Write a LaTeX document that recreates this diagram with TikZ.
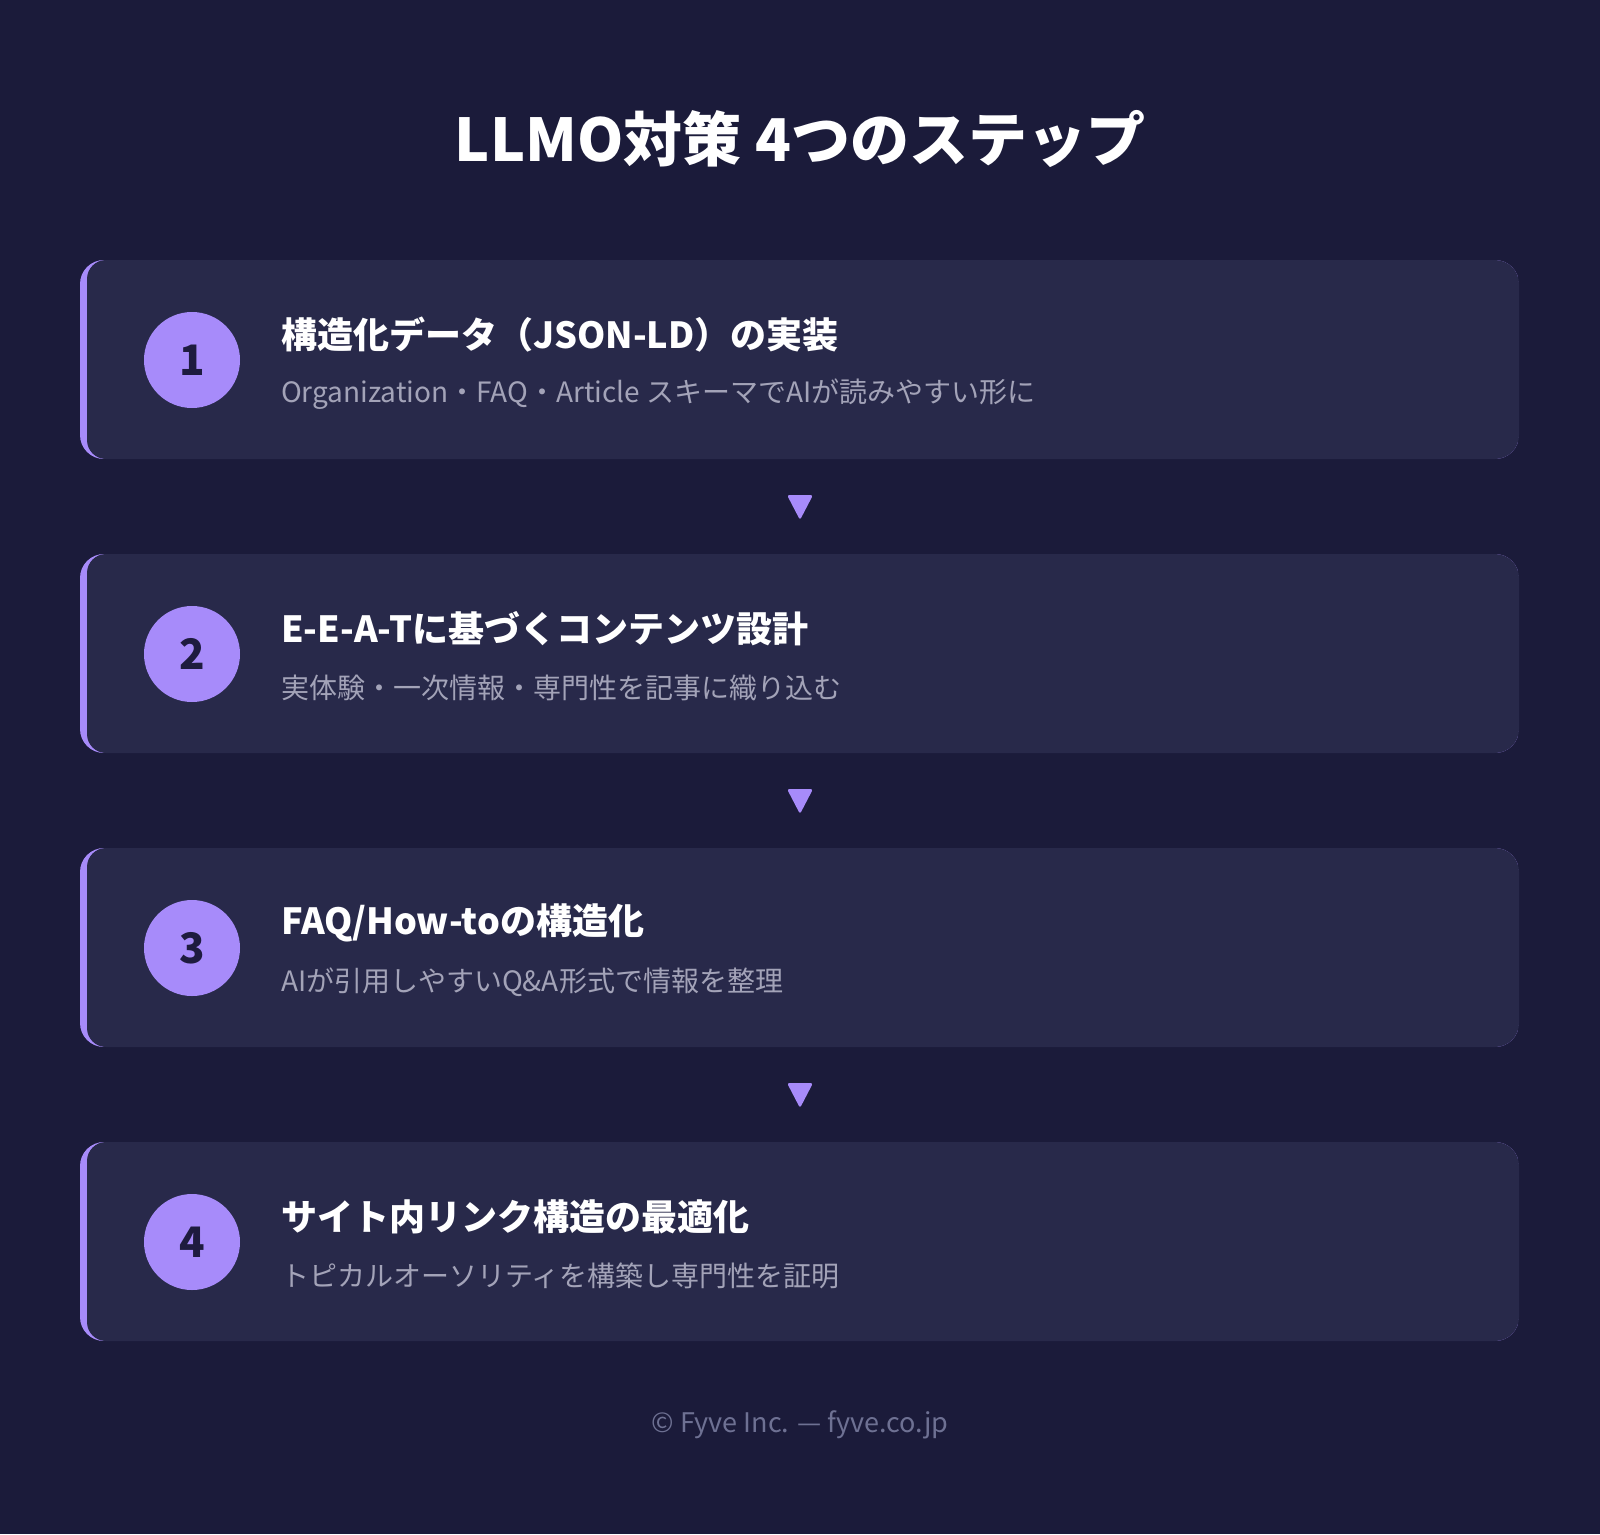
\documentclass[tikz,border=0pt]{standalone}
\usepackage{fontspec}
\setmainfont{Noto Sans CJK JP}
\usetikzlibrary{positioning}

\definecolor{bgnavy}{HTML}{1B1B3A}
\definecolor{cardbg}{HTML}{28294A}
\definecolor{accent}{HTML}{A78BFA}
\definecolor{numdark}{HTML}{1E1B3F}
\definecolor{descgray}{HTML}{A3A3B8}
\definecolor{footgray}{HTML}{6E7193}

\tikzset{
	headline/.style={white, font=\fontsize{59}{64}\selectfont\bfseries},
	numdot/.style={circle, fill=accent, minimum size=96, inner sep=0pt, text=numdark, font=\fontsize{42}{46}\selectfont\bfseries},
	steptitle/.style={anchor=west, inner sep=0pt, white, font=\fontsize{36}{40}\selectfont\bfseries},
	stepdesc/.style={anchor=west, inner sep=0pt, descgray, font=\fontsize{28}{32}\selectfont},
}

\begin{document}
\begin{tikzpicture}[x=1pt, y=-1pt]

	\fill [bgnavy] (0,0) rectangle (1600,1534);
	\node [headline] (title) at (800,139) {LLMO対策 4つのステップ};

	\foreach \n/\ttl/\desc [evaluate=\n as \cardy using {260+294*(\n-1)}] in {
		1/{構造化データ（JSON-LD）の実装}/{Organization・FAQ・Article スキーマでAIが読みやすい形に},
		2/{E-E-A-Tに基づくコンテンツ設計}/{実体験・一次情報・専門性を記事に織り込む},
		3/{FAQ/How-toの構造化}/{AIが引用しやすいQ\&A形式で情報を整理},
		4/{サイト内リンク構造の最適化}/{トピカルオーソリティを構築し専門性を証明}} {
		\begin{scope}[shift={(0,\cardy)}]
			\begin{scope}
				\clip [rounded corners=24] (80,0) rectangle (1519,199);
				\fill [accent] (80,0) rectangle (1519,199);
				\fill [cardbg, rounded corners=19] (87,0) rectangle (1560,199);
			\end{scope}
			\node [numdot] (num\n) at (192,100) {\n};
			\node [steptitle] (ttl\n) at (281,75) {\ttl};
			\node [stepdesc] (desc\n) at (281,134) {\desc};
		\end{scope}
	}

	% triangles between the cards
	\foreach \k in {0,1,2}
		\fill [accent, rounded corners=2.5, shift={(0,{507+294*\k})}] (787,-12) -- (813,-12) -- (800,13) -- cycle;

	\node [footgray, font=\fontsize{27}{31}\selectfont] (foot) at (800,1425) {© Fyve Inc. — fyve.co.jp};

\end{tikzpicture}
\end{document}
